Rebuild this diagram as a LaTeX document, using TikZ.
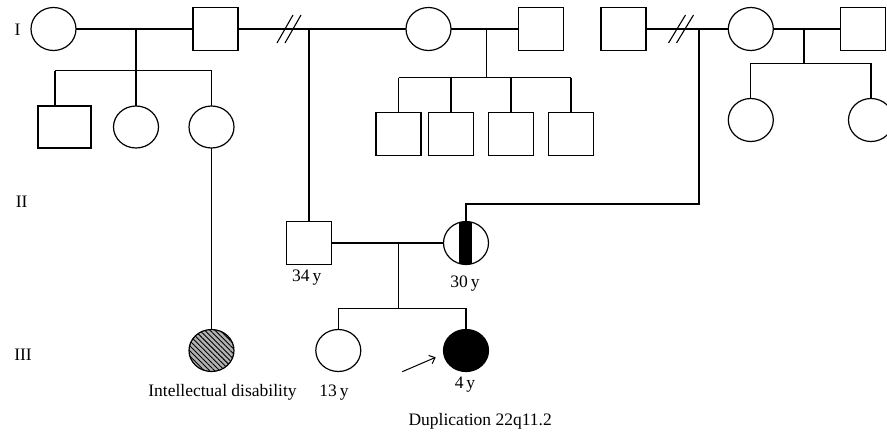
\documentclass[tikz,border=0pt]{standalone}
\usepackage{fontspec}
\setmainfont{Liberation Serif}
\usetikzlibrary{shapes.geometric,patterns.meta,arrows.meta}
\begin{document}
\begin{tikzpicture}[x=1pt,y=-1pt,line width=1.2pt,
  fem/.style={ellipse,draw,minimum width=45pt,minimum height=43pt,inner sep=0pt,outer sep=0pt},
  kid/.style={fem,minimum height=42pt},
  mal/.style={rectangle,draw,minimum width=45pt,minimum height=43pt,inner sep=0pt,outer sep=0pt},
  malw/.style={mal,minimum width=53pt,minimum height=42pt},
  carrier/.style={fem,path picture={\fill[black] ([xshift=-7pt]path picture bounding box.north) rectangle ([xshift=6pt]path picture bounding box.south);}},
  affect/.style={kid,preaction={fill=gray!60},pattern={Lines[angle=-45,distance=3.6pt,line width=0.9pt]}},
  lbl/.style={font=\fontsize{17.5}{20}\selectfont,inner sep=0pt,anchor=base},
  slash/.style={line width=1.1pt}]
\clip (0,0) rectangle (887,436);
% generation labels
\node[lbl] (gI) at (17.5,35.5) {I};
\node[lbl] (gII) at (21.7,207.3) {II};
\node[lbl] (gIII) at (23,360) {III};
% row I
\node[fem] (f1) at (53.5,29) {};
\node[mal] (m1) at (215.5,29) {};
\node[fem] (f2) at (428.5,29) {};
\node[mal] (m2) at (540.7,29) {};
\node[mal] (m3) at (623.5,29) {};
\node[fem] (f3) at (750.8,29) {};
\node[mal] (m4) at (863.3,29) {};
\draw (f1) -- (m1);
\draw (m1) -- (f2);
\draw (f2) -- (m2);
\draw (m3) -- (f3);
\draw (f3) -- (m4);
% divorce slashes
\coordinate (s1) at (289,29);
\coordinate (s2) at (681,29);
\draw[slash] ([shift={(-12,14)}]s1) -- ++(16,-28);
\draw[slash] ([shift={(-4,14)}]s1) -- ++(16,-28);
\draw[slash] ([shift={(-12.5,14)}]s2) -- ++(17,-28);
\draw[slash] ([shift={(-4.5,14)}]s2) -- ++(17,-28);
% sibship 1
\coordinate (p1) at (136,29);
\coordinate (p1b) at (136,70.7);
\coordinate (a1d) at (55,70.7);
\node[malw] (a1) at (64.5,127) {};
\node[kid] (a2) at (136,127) {};
\node[kid] (a3) at (211.5,127) {};
\draw (p1) -- (p1b);
\draw (a1d) -- (a3 |- a1d);
\draw (a1d) -- (a1.north -| a1d);
\draw (a2 |- a1d) -- (a2);
\draw (a3 |- a1d) -- (a3);
% sibship 2
\coordinate (p2) at (486.7,29);
\coordinate (p2b) at (486.7,77.7);
\node[mal] (b1) at (398.5,133.7) {};
\node[mal] (b2) at (451,133.7) {};
\node[mal] (b3) at (511,133.7) {};
\node[mal] (b4) at (571,133.7) {};
\draw (p2) -- (p2b);
\draw (b1 |- p2b) -- (b4 |- p2b);
\foreach \b in {b1,b2,b3,b4} \draw (\b |- p2b) -- (\b);
% sibship 3
\coordinate (p3) at (804,29);
\coordinate (p3b) at (804,63.3);
\node[fem] (c1) at (750.8,120) {};
\node[fem] (c2) at (871,120) {};
\draw (p3) -- (p3b);
\draw (c1 |- p3b) -- (c2 |- p3b);
\draw (c1 |- p3b) -- (c1);
\draw (c2 |- p3b) -- (c2);
% row II
\node[mal] (m5) at (309,243) {};
\node[carrier] (f4) at (466,243) {};
\draw (m5) -- (f4);
\coordinate (p4) at (309,29);
\draw (p4) -- (m5);
\coordinate (p5) at (699,29);
\coordinate (p5b) at (699,204);
\draw (p5) -- (p5b) -- (p5b -| f4) -- (f4);
\node[lbl] (l34) at (306.7,281.7) {34\,y};
\node[lbl] (l30) at (465,287.3) {30\,y};
% row III
\coordinate (p6) at (398.3,243);
\coordinate (p6b) at (398.3,308.3);
\node[affect] (g1) at (211.5,350.5) {};
\node[kid] (g2) at (338.3,350.5) {};
\node[kid,fill=black] (g3) at (466,350.5) {};
\draw (p6) -- (p6b);
\draw (g2 |- p6b) -- (g3 |- p6b);
\draw (g2 |- p6b) -- (g2);
\draw (g3 |- p6b) -- (g3);
\draw (a3) -- (g1);
% proband arrow
\coordinate (ar) at (402.3,371.7);
\coordinate (ah) at (435.7,357.3);
\draw[-{Straight Barb[length=5pt,width=9pt]},line width=1pt] (ar) -- (ah);
% labels
\node[lbl] (lid) at (222.5,396.7) {Intellectual disability};
\node[lbl] (l13) at (334,396.7) {13\,y};
\node[lbl] (l4) at (465,388.3) {4\,y};
\node[lbl,anchor=base west] (ldup) at (408,425) {Duplication 22q11.2};
\end{tikzpicture}
\end{document}
